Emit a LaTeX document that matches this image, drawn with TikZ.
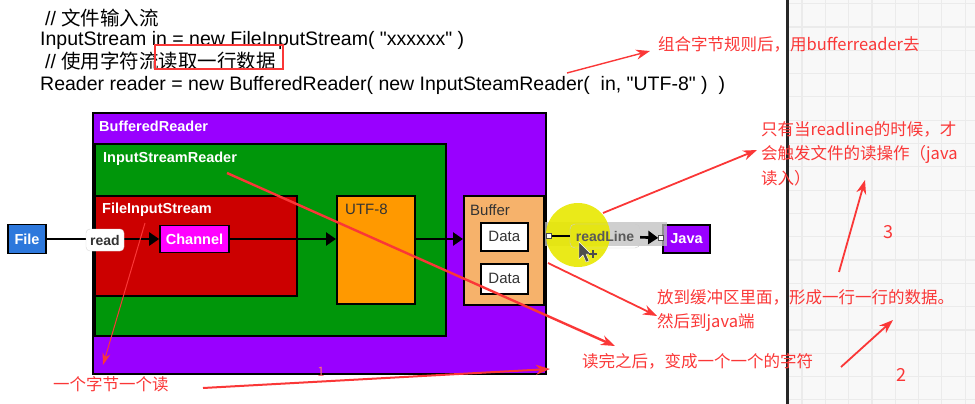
\documentclass[tikz,border=0pt]{standalone}
\usepackage{fontspec}
\setmainfont{Liberation Sans}
\newfontfamily\codefont{Liberation Sans}[Ligatures=TeXOff]
\newfontfamily\cjk{Noto Sans CJK SC}
\usetikzlibrary{arrows.meta,positioning,calc}

\definecolor{brpurple}{RGB}{153,0,255}
\definecolor{isrgreen}{RGB}{0,150,10}
\definecolor{fisred}{RGB}{204,0,0}
\definecolor{utforange}{RGB}{255,153,0}
\definecolor{bufpeach}{RGB}{246,178,107}
\definecolor{fileblue}{RGB}{45,120,220}
\definecolor{chanpink}{RGB}{255,0,255}
\definecolor{notered}{RGB}{250,55,55}
\definecolor{gridbg}{RGB}{248,248,248}
\definecolor{gridln}{RGB}{235,235,235}
\definecolor{hiyellow}{RGB}{232,232,0}

\tikzset{
  box/.style={draw=black, line width=1.6pt, anchor=north west, inner sep=0pt},
  boxlabel/.style={anchor=west, inner sep=0pt, text=white, font=\bfseries\fontsize{14.5}{16}\selectfont},
  darklabel/.style={anchor=west, inner sep=0pt, text=black!80, font=\fontsize{15}{16}\selectfont},
  tag/.style={draw=black, line width=1.6pt, inner sep=0pt, text=white, font=\bfseries\fontsize{14.5}{16}\selectfont},
  flow/.style={line width=2.6pt, -{Triangle[length=10pt,width=13pt]}},
  code/.style={anchor=west, inner sep=0pt, font=\codefont\fontsize{19.5}{21}\selectfont},
  note/.style={anchor=west, inner sep=0pt, text=notered, align=left, font=\cjk\fontsize{16.5}{24.5}\selectfont},
  redarrow/.style={draw=notered, line width=1.8pt, -{Stealth[length=14pt,width=10pt]}},
}

\begin{document}
\begin{tikzpicture}[x=1pt,y=-1pt]
	\useasboundingbox (0,0) rectangle (975,404);
	
	% grid panel on the right
	\fill[gridbg] (787,0) rectangle (975,404);
	\foreach \gx in {802,825.3,...,975} \draw[gridln, line width=1.2pt] (\gx,0) -- (\gx,404);
	\foreach \gy in {3.7,27,...,404} \draw[gridln, line width=1.2pt] (787,\gy) -- (975,\gy);
	\draw[line width=3pt, black!85] (787,0) -- (787,404);
	
	% code lines
	\node[code] (c1) at (45,18) {// {\cjk 文件输入流}};
	\node[code] (c2) at (40,40) {InputStream in = new FileInputStream( "xxxxxx" )};
	\node[code] (c3) at (45,61) {// {\cjk 使用字符流读取一行数据}};
	\node[code] (c4) at (40,85) {Reader reader = new BufferedReader( new InputSteamReader(~ in, "UTF-8" )~ )};
	\draw[notered, line width=2pt] (155,45) rectangle (283,69);
	
	% nested readers
	\node[box, fill=brpurple, minimum width=453pt, minimum height=261pt] (br) at (92,112) {};
	\node[boxlabel] (brl) at (99,126) {BufferedReader};
	\node[box, fill=isrgreen, minimum width=351pt, minimum height=192pt] (isr) at (94,143) {};
	\node[boxlabel] (isrl) at (103,159) {InputStreamReader};
	\node[box, fill=fisred, minimum width=202pt, minimum height=100pt] (fis) at (94,195) {};
	\node[boxlabel] (fisl) at (102,210) {FileInputStream};
	\node[box, fill=utforange, minimum width=78pt, minimum height=108pt] (utf) at (336,195) {};
	\node[darklabel] (utfl) at (345,209) {UTF-8};
	\node[box, fill=bufpeach, minimum width=80pt, minimum height=109pt] (buf) at (463,195) {};
	\node[darklabel] (bufl) at (470,210) {Buffer};
	\node[box, fill=white, minimum width=47pt, minimum height=28pt, font=\fontsize{15}{16}\selectfont, text=black!80] (d1) at (480,222) {Data};
	\node[box, fill=white, minimum width=47pt, minimum height=30pt, font=\fontsize{15}{16}\selectfont, text=black!80] (d2) at (480,263) {Data};
	
	\node[tag, fill=fileblue, minimum width=38pt, minimum height=29pt] (file) at (27,239) {File};
	\node[tag, fill=chanpink, minimum width=69pt, minimum height=27pt] (chan) at (194.5,239) {Channel};
	\node[tag, fill=brpurple, minimum width=47pt, minimum height=28pt] (java) at (686.5,239) {Java};
	
	\draw[flow] (file.east) -- (chan.west);
	\node[fill=white, draw=black!15, rounded corners=4pt, minimum width=38pt, minimum height=22pt, inner sep=0pt, text=black!80, font=\bfseries\fontsize{14}{16}\selectfont] (read) at (105,240) {read};
	\draw[flow] (chan.east) -- (chan.east -| utf.west);
	\draw[flow] (utf.east |- chan.east) -- (buf.west |- chan.east);
	
	% readLine link with the pointer
	\node[fill=black!25, opacity=.75, anchor=north west, minimum width=122pt, minimum height=24pt, inner sep=0pt] (band) at (545,222) {};
	\fill[hiyellow, opacity=.9] (578,235) circle (32pt);
	\node[draw=black!70, fill=white, minimum size=5pt, inner sep=0pt, line width=.6pt] (p1) at (549,236) {};
	\node[draw=black!70, fill=white, minimum size=5pt, inner sep=0pt, line width=.6pt] (p2) at (661,238) {};
	\node[draw=black!20, rounded corners=5pt, minimum width=70pt, minimum height=24pt, inner sep=0pt, text=black!65, font=\bfseries\fontsize{14}{16}\selectfont] (rl) at (605,236) {readLine};
	\draw[line width=2.6pt] (p1) -- (rl);
	\draw[flow] (rl) -- (p2);
	\fill[black!70, draw=white, line width=.4pt] (579,242) -- (579,259) -- (583,255) -- (586,262) -- (589,261) -- (586,254) -- (591,254) -- cycle;
	\draw[black!70, line width=1.2pt] (589,254) -- (597,254) (593,250) -- (593,258);
	
	% red notes
	\node[note] (n1) at (658,44) {组合字节规则后，用bufferreader去};
	\node[note, anchor=north west] (n2) at (761,121) {只有当readline的时候，才\\会触发文件的读操作（java\\读入）};
	\node[note, anchor=north west] (n3) at (657,289) {放到缓冲区里面，形成一行一行的数据。\\然后到java端};
	\node[note] (n4) at (582,361) {读完之后，变成一个一个的字符};
	\node[note] (n5) at (53,384) {一个字节一个读};
	\node[note, anchor=center, font=\cjk\fontsize{18}{20}\selectfont] (k3) at (888,232) {3};
	\node[note, anchor=center, font=\cjk\fontsize{18}{20}\selectfont] (k2) at (901,375) {2};
	\node[note, anchor=center, text=notered!70, font=\cjk\fontsize{13}{14}\selectfont] (k1) at (321,372) {1};
	
	\coordinate (a1s) at (567,73);
	\coordinate (a1e) at (650,51);
	\draw[redarrow, line width=1.4pt] (a1s) -- (a1e);
	\coordinate (a2s) at (603,213);
	\coordinate (a2e) at (757,150);
	\draw[redarrow] (a2s) -- (a2e);
	\coordinate (a3s) at (839,272);
	\coordinate (a3e) at (865,180);
	\draw[redarrow] (a3s) -- (a3e);
	\coordinate (a4s) at (548,263);
	\coordinate (a4e) at (657,316);
	\draw[redarrow] (a4s) -- (a4e);
	\coordinate (a5s) at (227,173);
	\coordinate (a5e) at (615,346);
	\draw[redarrow, line width=2.4pt] (a5s) -- (a5e);
	\coordinate (a6s) at (841,367);
	\coordinate (a6e) at (893,320);
	\draw[redarrow] (a6s) -- (a6e);
	\coordinate (a7s) at (145,223);
	\coordinate (a7e) at (103,365);
	\draw[redarrow, line width=1pt, -{Stealth[length=12pt,width=8pt]}] (a7s) -- (a7e);
	\coordinate (a8s) at (203,388);
	\coordinate (a8e) at (550,369);
	\draw[redarrow, line width=2pt] (a8s) -- (a8e);
\end{tikzpicture}
\end{document}
